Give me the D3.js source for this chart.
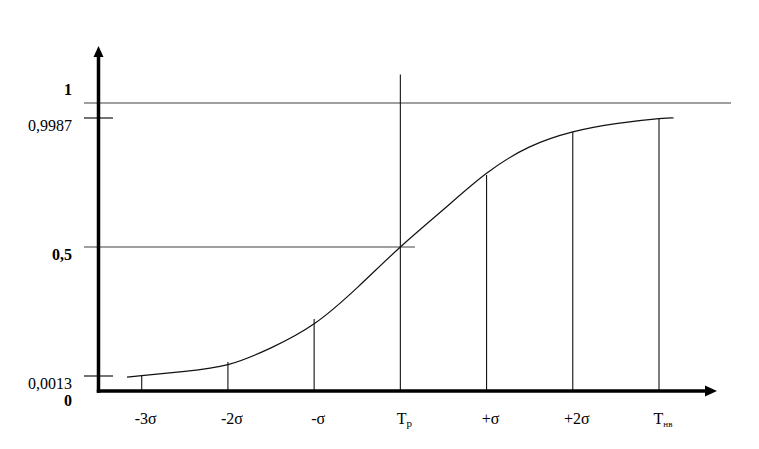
<!DOCTYPE html>
<html>
<head>
<meta charset="utf-8">
<script src="https://cdn.jsdelivr.net/npm/d3@7"></script>
<style>
  html, body { margin: 0; padding: 0; background: #fff; }
  svg { display: block; }
  text { font-family: "Liberation Serif", "Times New Roman", serif; fill: #000; }
</style>
</head>
<body>
<svg id="chart" width="759" height="449"></svg>
<script>
// ---- data ----
const sigmaTicks = [-3, -2, -1, 0, 1, 2, 3];
const labelMain  = ["-3σ", "-2σ", "-σ", "T", "+σ", "+2σ", "T"];
const labelSub   = ["", "", "", "р", "", "", "нв"];
const dropTops   = [0.0013, 0.0554, 0.2217, 1.1, 0.7784, 0.9446, 0.9987];

const curveX = [-3.17, -3, -2.5, -2, -1.5, -1, -0.5, 0, 0.5, 1, 1.5, 2, 2.5, 3, 3.17];
const curveP = [0.0012, 0.0025, 0.019, 0.045, 0.11, 0.203, 0.343, 0.5, 0.645, 0.785, 0.887, 0.945, 0.977, 0.996, 0.9987];

const yLevels = [0, 0.0013, 0.5, 0.9987, 1];
const yLabels = ["0", "0,0013", "0,5", "0,9987", "1"];
const yBold   = [true, false, true, false, true];

// ---- scales ----
const x = d3.scaleLinear().domain([-3, 3]).range([141.7, 659]);
const y = d3.scaleLinear().domain([0, 0.0013, 0.9987, 1, 1.2]).range([391, 376, 118, 103, 46]);

const svg = d3.select("#chart");
const axisX0 = 98.5;          // y-axis position (px)
const guideLeft = 84;          // left end of guide lines

// guide line at 1
svg.append("line")
  .attr("x1", guideLeft).attr("x2", 731)
  .attr("y1", y(1)).attr("y2", y(1))
  .attr("stroke", "#7f7f7f").attr("stroke-width", 1.4);

// guide line at 0.5
svg.append("line")
  .attr("x1", guideLeft).attr("x2", x(0.17))
  .attr("y1", y(0.5)).attr("y2", y(0.5))
  .attr("stroke", "#7f7f7f").attr("stroke-width", 1.4);

// short ticks at 0.9987 and 0.0013
svg.selectAll("line.tk").data([0.0013, 0.9987]).enter().append("line")
  .attr("class", "tk")
  .attr("x1", guideLeft).attr("x2", 113)
  .attr("y1", d => y(d)).attr("y2", d => y(d))
  .attr("stroke", "#000").attr("stroke-width", 1.1);

// drop lines
svg.selectAll("line.drop").data(sigmaTicks).enter().append("line")
  .attr("class", "drop")
  .attr("x1", d => x(d)).attr("x2", d => x(d))
  .attr("y1", y(0)).attr("y2", (d, i) => y(dropTops[i]))
  .attr("stroke", "#111").attr("stroke-width", 1.1);

// curve
const pts = curveX.map((v, i) => [v, curveP[i]]);
svg.append("path")
  .datum(pts)
  .attr("fill", "none")
  .attr("stroke", "#111")
  .attr("stroke-width", 1.2)
  .attr("d", d3.line().x(d => x(d[0])).y(d => y(d[1])).curve(d3.curveNatural));

// axes
svg.append("line")
  .attr("x1", axisX0).attr("x2", axisX0)
  .attr("y1", y(0) + 1.7).attr("y2", y(1.2) + 10)
  .attr("stroke", "#000").attr("stroke-width", 3.5);
svg.append("path")
  .attr("d", `M${axisX0},${y(1.2)} L${axisX0 - 5},${y(1.2) + 11} L${axisX0 + 5},${y(1.2) + 11} Z`)
  .attr("fill", "#000");

svg.append("line")
  .attr("x1", axisX0 - 1.7).attr("x2", 706)
  .attr("y1", y(0)).attr("y2", y(0))
  .attr("stroke", "#000").attr("stroke-width", 3.5);
svg.append("path")
  .attr("d", `M717,${y(0)} L705,${y(0) - 5.5} L705,${y(0) + 5.5} Z`)
  .attr("fill", "#000");

// y labels
svg.selectAll("text.yl").data(yLevels).enter().append("text")
  .attr("class", "yl")
  .attr("x", 72)
  .attr("y", d => y(d) + (d === 1 ? -8 : (d === 0 ? 15 : 13)))
  .attr("text-anchor", "end")
  .attr("font-size", "16px")
  .attr("font-weight", (d, i) => yBold[i] ? "bold" : "normal")
  .text((d, i) => yLabels[i]);

// x labels
const xl = svg.selectAll("text.xl").data(sigmaTicks).enter().append("text")
  .attr("class", "xl")
  .attr("x", d => x(d) + 4)
  .attr("y", 424)
  .attr("text-anchor", "middle")
  .attr("font-size", "16px");
xl.append("tspan").text((d, i) => labelMain[i]);
xl.append("tspan")
  .attr("dy", 3)
  .attr("font-size", (d, i) => labelSub[i] === "нв" ? "9px" : "11px")
  .text((d, i) => labelSub[i]);
</script>
</body>
</html>
